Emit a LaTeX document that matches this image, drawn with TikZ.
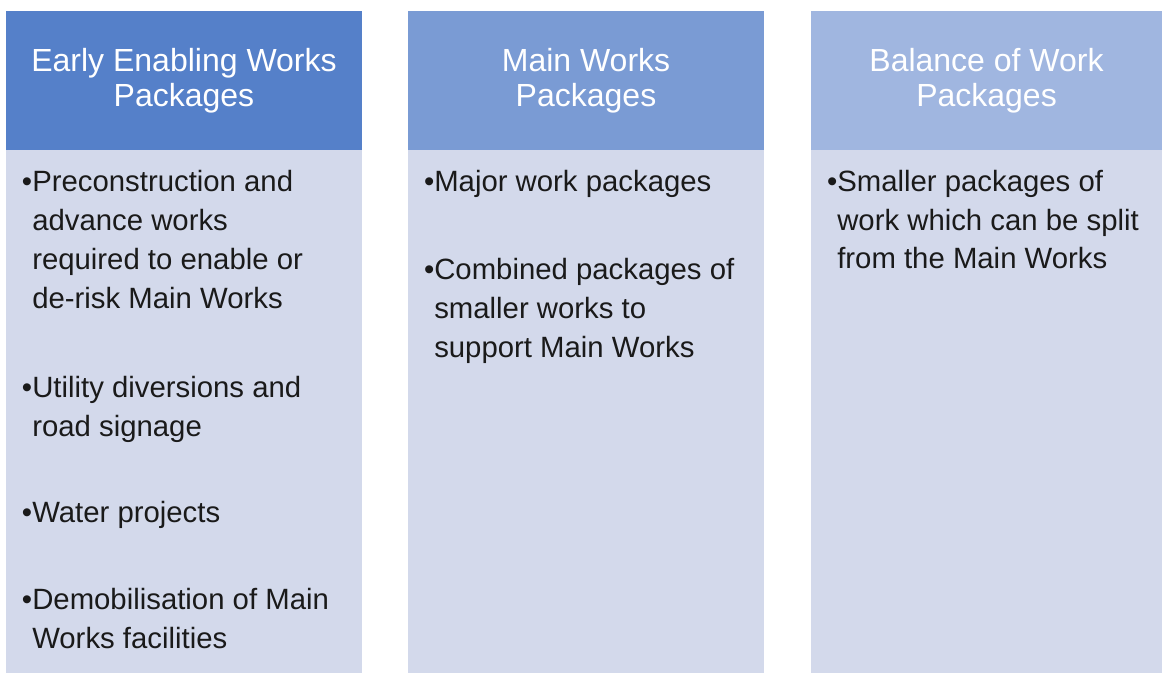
\documentclass[tikz,border=0pt]{standalone}
\usepackage{fontspec}
\setmainfont{Liberation Sans}
\definecolor{hA}{RGB}{85,128,201}
\definecolor{hB}{RGB}{122,155,212}
\definecolor{hC}{RGB}{160,182,224}
\definecolor{bodyc}{RGB}{211,217,235}
\definecolor{txt}{RGB}{26,26,26}
\begin{document}
\begin{tikzpicture}[x=0.75pt,y=-0.75pt,
  hdr/.style={anchor=north west, inner sep=0pt, outer sep=0pt, text=white, align=center,
    font=\fontsize{24}{26}\selectfont, minimum height=104.25pt},
  bodybox/.style={anchor=north west, inner sep=0pt, outer sep=0pt, fill=bodyc, minimum height=392.25pt},
  item/.style={anchor=base west, inner sep=0pt, align=left, text=txt,
    font=\fontsize{22}{29}\selectfont}]
\useasboundingbox (0,0) rectangle (1162,673);
% column 1
\node[bodybox, minimum width=267pt] (b1) at (6,150) {};
\node[hdr, fill=hA, minimum width=267pt] (h1) at (6,11) {Early Enabling Works\\Packages};
% column 2
\node[bodybox, minimum width=267pt] (b2) at (408,150) {};
\node[hdr, fill=hB, minimum width=267pt] (h2) at (408,11) {Main Works\\Packages};
% column 3
\node[bodybox, minimum width=263.25pt] (b3) at (811,150) {};
\node[hdr, fill=hC, minimum width=263.25pt] (h3) at (811,11) {Balance of Work\\Packages};
% items column 1 (anchor = baseline of last line)
\node[item] (i11) at (32,308) {\llap{•}Preconstruction and\\advance works\\required to enable or\\de-risk Main Works};
\node[item] (i12) at (32,436) {\llap{•}Utility diversions and\\road signage};
\node[item] (i13) at (32,522) {\llap{•}Water projects};
\node[item] (i14) at (32,648) {\llap{•}Demobilisation of Main\\Works facilities};
% items column 2
\node[item] (i21) at (434,192) {\llap{•}Major work packages};
\node[item] (i22) at (434,357) {\llap{•}Combined packages of\\smaller works to\\support Main Works};
% items column 3
\node[item] (i31) at (837,269) {\llap{•}Smaller packages of\\work which can be split\\from the Main Works};
\end{tikzpicture}
\end{document}
